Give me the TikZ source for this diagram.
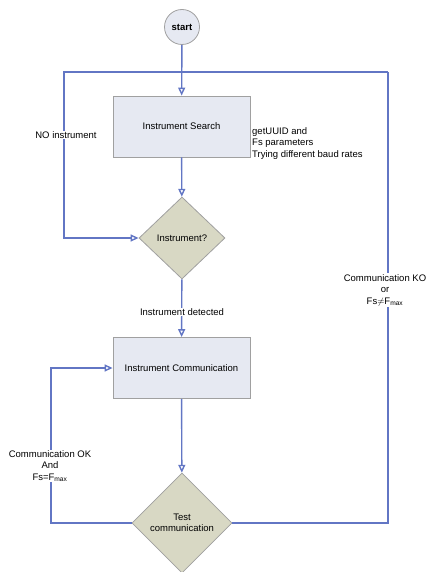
\documentclass[tikz,border=0pt]{standalone}
\usepackage{fontspec}
\setmainfont{Liberation Sans}
\usetikzlibrary{arrows.meta,shapes.geometric}
\definecolor{flowblue}{RGB}{98,118,196}
\definecolor{boxfill}{RGB}{230,233,242}
\definecolor{decfill}{RGB}{216,216,196}
\definecolor{edgegray}{RGB}{160,160,160}
\tikzset{
	flow/.style={draw=flowblue, line width=1.4pt},
	arr/.style={flow, -{Triangle[open,length=8pt,width=7pt]}},
	procbox/.style={draw=edgegray, fill=boxfill, line width=0.8pt, minimum width=137pt, minimum height=61pt},
	decbox/.style={diamond, draw=edgegray, fill=decfill, line width=0.8pt, inner sep=0pt, align=center},
	lbl/.style={fill=white, align=center, inner sep=1pt}
}

\begin{document}
\begin{tikzpicture}[x=1pt, y=-1pt, font=\fontsize{9.5}{11.5}\selectfont]
				\useasboundingbox (0,0) rectangle (427,572);
				
				\node[circle, draw=edgegray, fill=boxfill, line width=0.8pt, minimum size=35pt, inner sep=0pt, font=\fontsize{9.5}{11.5}\selectfont\bfseries] (start) at (182,27) {start};
				\node[procbox] (search) at (181.5,126.5) {Instrument Search};
				\node[decbox, minimum width=86pt, minimum height=82pt] (isinstr) at (182,238) {Instrument?};
				\node[procbox] (comm) at (181.5,368) {Instrument Communication};
				\node[decbox, minimum width=100pt, minimum height=100pt] (test) at (182,523) {Test\\communication};
				
				\node[anchor=north west, align=left, inner sep=0pt] (searchnote) at (252,127) {getUUID and\\Fs parameters\\Trying different baud rates};
				
				\coordinate (topl) at (64,72);
				\coordinate (topr) at (388,72);
				\coordinate (okcorner) at (51,523);
				\coordinate (okup) at (51,368);
				
				% search loop
				\draw[arr] (start) -- (search);
				\draw[arr] (search) -- (isinstr);
				\draw[arr] (topr) -- (topl) |- (isinstr.west);
				\draw[arr] (isinstr) -- (comm);
				\draw[arr] (comm) -- (test);
				
				% communication loops
				\draw[arr] (test.west) -- (okcorner) -- (okup) -- (comm.west);
				\draw[flow] (test.east) -| (topr);
				
				\node[lbl] (noinstr) at (66,135) {NO instrument};
				\node[lbl] (detected) at (182,312) {Instrument detected};
				\node[lbl] (oklbl) at (50,466) {Communication OK\\And\\Fs=F$_{\mathrm{max}}$};
				\node[lbl] (kolbl) at (385,290) {Communication KO\\or\\Fs$\neq$F$_{\mathrm{max}}$};
			\end{tikzpicture}
\end{document}
